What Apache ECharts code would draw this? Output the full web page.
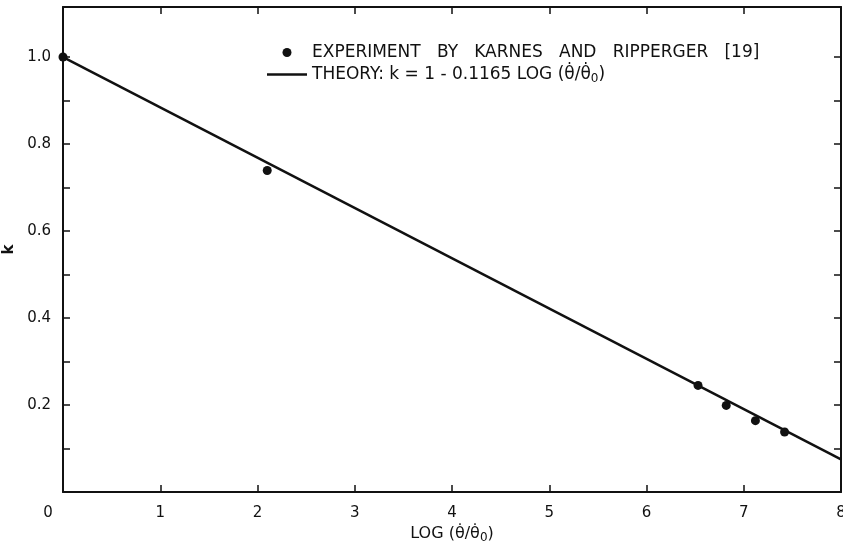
<!DOCTYPE html>
<html>
<head>
<meta charset="utf-8">
<script src="https://cdn.jsdelivr.net/npm/echarts@6/dist/echarts.min.js"></script>
<style>
  html, body { margin: 0; padding: 0; background: #fff; }
  #main { width: 843px; height: 548px; }
</style>
</head>
<body>
<div id="main"></div>
<script>
// measured points (Karnes and Ripperger)
var expX = [0, 2.1, 6.53, 6.82, 7.12, 7.42];
var expK = [1.0, 0.739, 0.245, 0.199, 0.164, 0.138];

// theory line end points
var theoryX = [0, 8];
var theoryK = [1.0, 0.075];

var xTicks = [1, 2, 3, 4, 5, 6, 7];
var xLabels = [0, 1, 2, 3, 4, 5, 6, 7, 8];
var yTicks = [0.1, 0.2, 0.3, 0.4, 0.5, 0.6, 0.7, 0.8, 0.9, 1.0];
var yLabels = [0.2, 0.4, 0.6, 0.8, 1.0];

var ink = '#111';
var font = 'DejaVu Sans';

var chart = echarts.init(document.getElementById('main'));

function frameAxis(pos) {
    return {
        type: 'value',
        min: 0,
        max: pos === 'top' || pos === 'bottom' ? 8 : 1.115,
        position: pos,
        splitLine: { show: false },
        axisLine: { onZero: false, lineStyle: { color: ink, width: 2 } },
        axisTick: {
            inside: true, length: 7,
            customValues: pos === 'top' || pos === 'bottom' ? xTicks : yTicks,
            lineStyle: { color: ink, width: 1.5 }
        },
        axisLabel: { show: false }
    };
}

var xBottom = frameAxis('bottom');
xBottom.axisLabel = {
    customValues: xLabels,
    margin: 14,
    color: ink, fontFamily: font, fontSize: 15,
    formatter: function (v) { return v === 0 ? '{z|0}' : String(v); },
    rich: { z: { color: ink, fontFamily: font, fontSize: 15, padding: [0, 30, 0, 0] } }
};
xBottom.name = '{t|LOG (θ̇/θ̇}{s|0}{t|)}';
xBottom.nameLocation = 'middle';
xBottom.nameGap = 32;
xBottom.nameTextStyle = {
    rich: {
        t: { color: ink, fontFamily: font, fontSize: 16 },
        s: { color: ink, fontFamily: font, fontSize: 12, padding: [8, 0, 0, 0] }
    }
};

var yLeft = frameAxis('left');
yLeft.axisLabel = {
    customValues: yLabels,
    margin: 12,
    color: ink, fontFamily: font, fontSize: 15,
    formatter: function (v) { return v.toFixed(1); }
};
yLeft.name = 'k';
yLeft.nameLocation = 'middle';
yLeft.nameGap = 40;
yLeft.nameRotate = 90;
yLeft.nameTextStyle = { color: ink, fontFamily: font, fontSize: 15, fontWeight: 'bold' };

var option = {
    backgroundColor: '#fff',
    animation: false,
    grid: { left: 63, right: 2, top: 7, bottom: 56, containLabel: false, outerBoundsMode: 'none' },
    legend: {
        orient: 'vertical',
        left: 262,
        top: 39,
        itemWidth: 40,
        itemHeight: 9,
        itemGap: 5,
        textStyle: {
            color: ink, fontFamily: font, fontSize: 17,
            rich: {
                t: { color: ink, fontFamily: font, fontSize: 17 },
                s: { color: ink, fontFamily: font, fontSize: 12, padding: [9, 0, 0, 0] }
            }
        },
        formatter: function (name) {
            if (name === 'theory') {
                return '{t|THEORY: k = 1 - 0.1165 LOG (θ̇/θ̇}{s|0}{t|)}';
            }
            return 'EXPERIMENT   BY   KARNES   AND   RIPPERGER   [19]';
        },
        data: [
            { name: 'exp', icon: 'circle' },
            { name: 'theory', icon: 'path://M0,0 L40,0 L40,2.5 L0,2.5 Z', itemStyle: { color: ink } }
        ]
    },
    xAxis: [xBottom, frameAxis('top')],
    yAxis: [yLeft, frameAxis('right')],
    series: [{
        name: 'theory',
        type: 'line',
        showSymbol: false,
        symbol: 'none',
        lineStyle: { color: ink, width: 2.5 },
        itemStyle: { color: ink },
        data: theoryX.map(function (x, i) { return [x, theoryK[i]]; })
    }, {
        name: 'exp',
        type: 'scatter',
        symbol: 'circle',
        symbolSize: 9,
        itemStyle: { color: ink, opacity: 1 },
        clip: false,
        z: 5,
        data: expX.map(function (x, i) { return [x, expK[i]]; })
    }]
};

chart.setOption(option);
</script>
</body>
</html>
